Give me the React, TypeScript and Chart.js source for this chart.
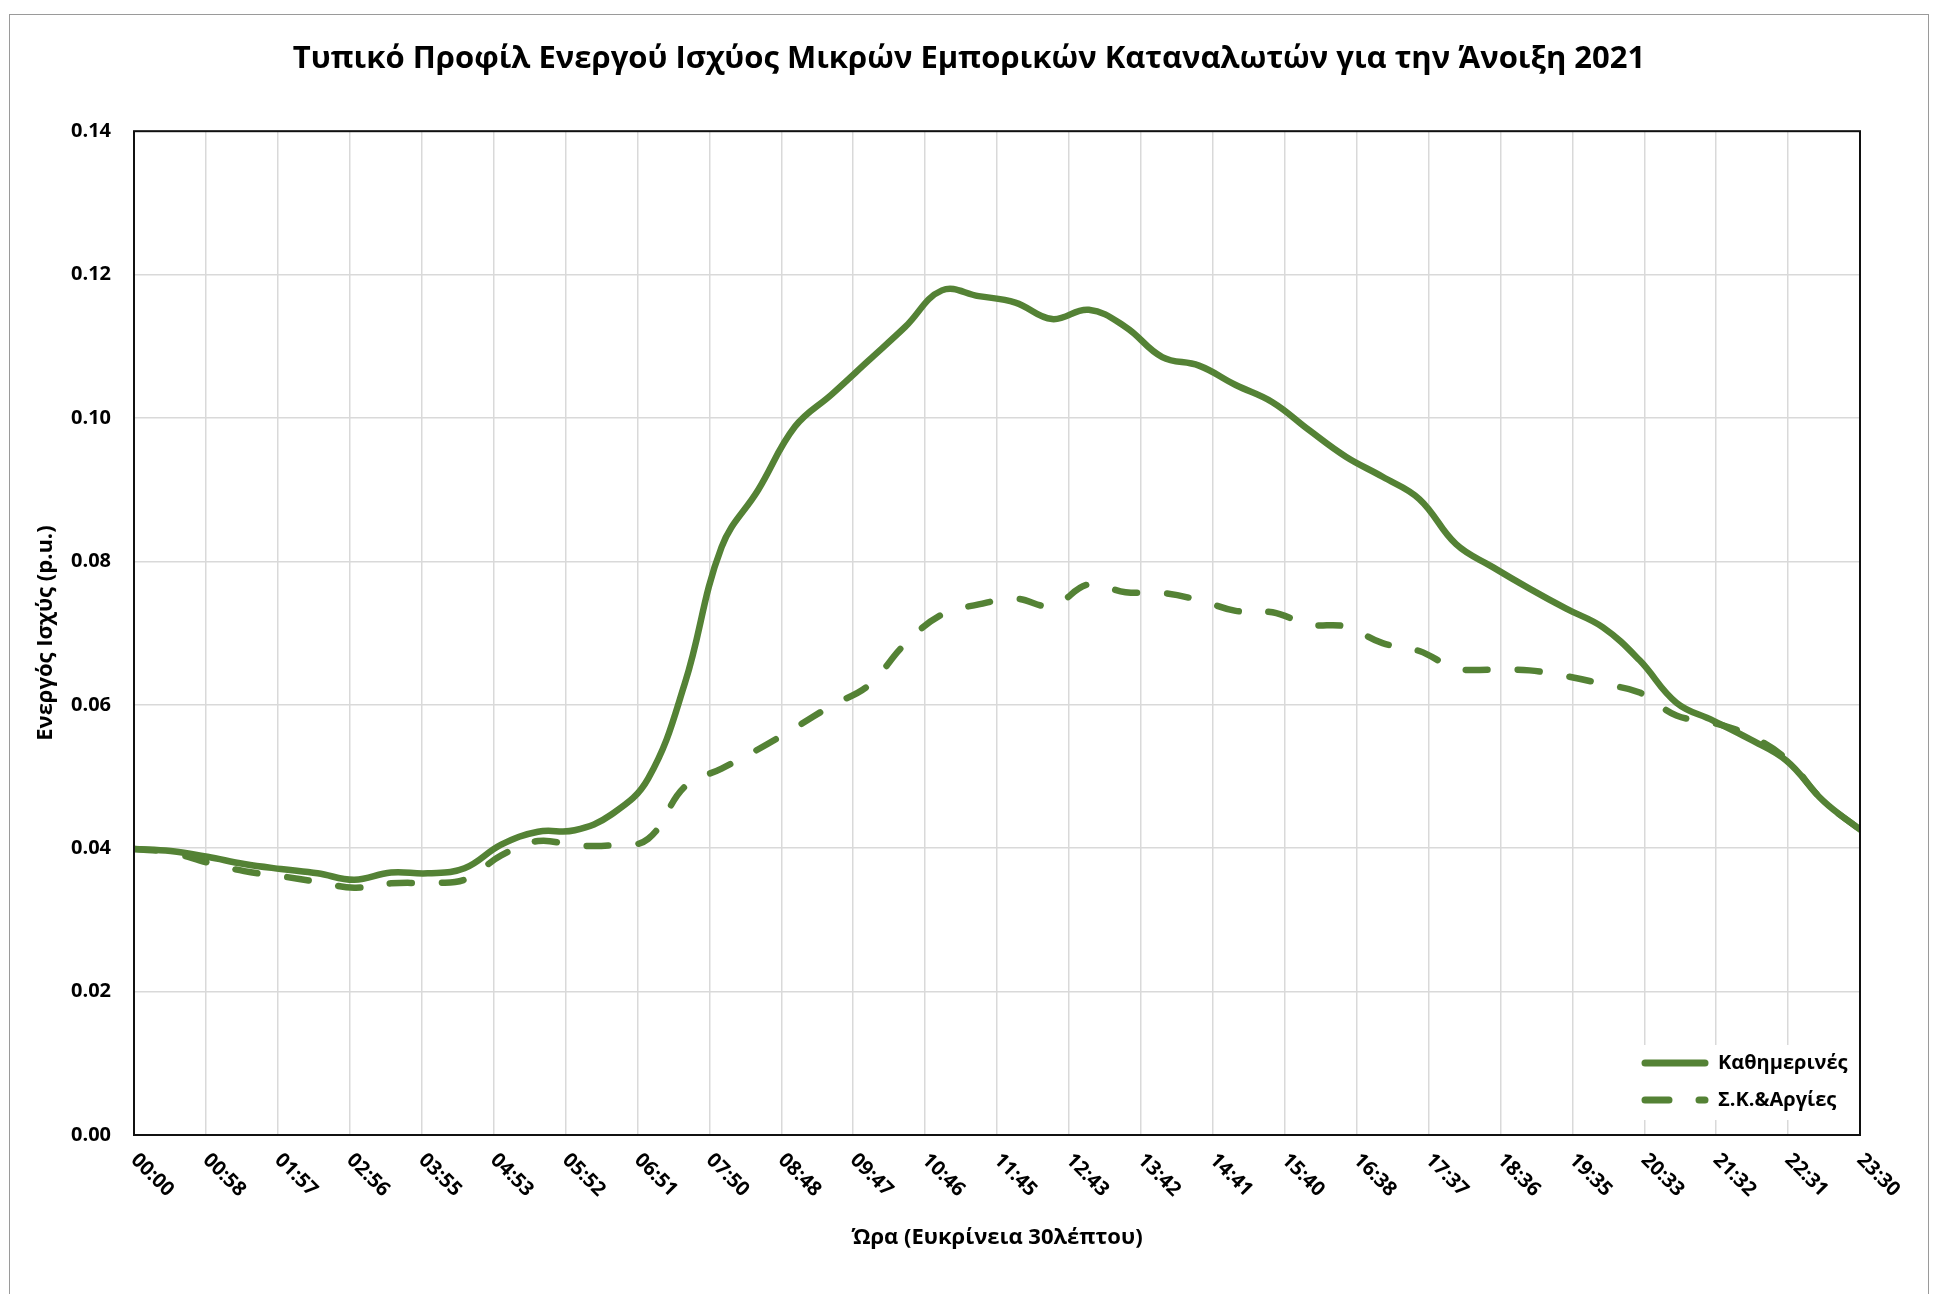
import React, { useEffect, useRef } from "react";
import { Chart, registerables } from "chart.js";

Chart.register(...registerables);

const TITLE =
  "Τυπικό Προφίλ Ενεργού Ισχύος Μικρών Εμπορικών Καταναλωτών για την Άνοιξη 2021";
const X_TITLE = "Ώρα (Ευκρίνεια 30λέπτου)";
const Y_TITLE = "Ενεργός Ισχύς (p.u.)";
const SERIES_NAMES = ["Καθημερινές", "Σ.Κ.&Αργίες"];

const X_TICK_LABELS = [
  "00:00", "00:58", "01:57", "02:56", "03:55", "04:53", "05:52", "06:51",
  "07:50", "08:48", "09:47", "10:46", "11:45", "12:43", "13:42", "14:41",
  "15:40", "16:38", "17:37", "18:36", "19:35", "20:33", "21:32", "22:31",
  "23:30",
];
const Y_TICKS = [0, 0.02, 0.04, 0.06, 0.08, 0.1, 0.12, 0.14];

// Half-hour resolution values, 00:00 ... 23:30
const WEEKDAYS = [
  0.0399, 0.0396, 0.0388, 0.0378, 0.0371, 0.0365, 0.0356, 0.0366,
  0.0365, 0.0372, 0.0405, 0.0423, 0.0425, 0.0447, 0.0497, 0.063,
  0.082, 0.09, 0.0988, 0.1033, 0.108, 0.1127, 0.1178, 0.117,
  0.1161, 0.1138, 0.1151, 0.1127, 0.1085, 0.1073, 0.1046, 0.1022,
  0.0983, 0.0946, 0.0918, 0.0887, 0.0824, 0.0792, 0.0762, 0.0734,
  0.0708, 0.0662, 0.0603, 0.0578, 0.0552, 0.0522, 0.0466, 0.0426,
];
const WEEKENDS = [
  0.0399, 0.0394, 0.038, 0.0368, 0.0361, 0.0353, 0.0345, 0.0351,
  0.0352, 0.0356, 0.039, 0.041, 0.0404, 0.0404, 0.0413, 0.0486,
  0.0511, 0.0538, 0.0568, 0.0599, 0.0627, 0.0685, 0.0726, 0.074,
  0.0748, 0.0738, 0.0768, 0.0757, 0.0756, 0.0746, 0.0731, 0.0729,
  0.0712, 0.0709, 0.0686, 0.0675, 0.0651, 0.0649, 0.0648, 0.064,
  0.0629, 0.0617, 0.0585, 0.0575, 0.0557, 0.0524, 0.0466, 0.0426,
];

const SLOT_MINUTES = 30;
const TIME_SLOTS = WEEKDAYS.map((_, i) => i * SLOT_MINUTES);
const DAY_SPAN = TIME_SLOTS[TIME_SLOTS.length - 1];
const TICK_STEP = DAY_SPAN / (X_TICK_LABELS.length - 1);

const GREEN = "#548235";
const FONT = "'Open Sans', 'Noto Sans', sans-serif";
const DASH = [22, 30];

const CANVAS_W = 1918;
const CANVAS_H = 1279;

const xLabelPlugin = {
  id: "rotatedXLabels",
  afterDraw(chart: any) {
    const { ctx, chartArea, scales } = chart;
    const xs = scales.x;
    ctx.save();
    ctx.font = `bold 20px ${FONT}`;
    ctx.fillStyle = "#000";
    ctx.textAlign = "left";
    ctx.textBaseline = "middle";
    X_TICK_LABELS.forEach((lab, k) => {
      const px = xs.getPixelForValue(k * TICK_STEP);
      ctx.save();
      ctx.translate(px, chartArea.bottom + 22);
      ctx.rotate(Math.PI / 4);
      ctx.fillText(lab, 0, 0);
      ctx.restore();
    });
    ctx.restore();
  },
};

const frameBoxPlugin = {
  id: "plotFrame",
  afterDatasetsDraw(chart: any) {
    const { ctx, chartArea } = chart;
    ctx.save();
    ctx.strokeStyle = "#111";
    ctx.lineWidth = 2;
    ctx.strokeRect(
      chartArea.left,
      chartArea.top,
      chartArea.right - chartArea.left,
      chartArea.bottom - chartArea.top
    );
    ctx.restore();
  },
};

const insideLegendPlugin = {
  id: "insideLegend",
  afterDraw(chart: any) {
    const { ctx, chartArea } = chart;
    const r = chartArea.right;
    const b = chartArea.bottom;
    ctx.save();
    ctx.fillStyle = "#fff";
    ctx.fillRect(r - 228, b - 90, 224, 75);
    const rows = [
      { y: b - 72, dash: [] as number[] },
      { y: b - 35, dash: [24, 30] },
    ];
    rows.forEach((row, idx) => {
      ctx.beginPath();
      ctx.strokeStyle = GREEN;
      ctx.lineWidth = 7;
      ctx.lineCap = "round";
      ctx.setLineDash(row.dash);
      ctx.moveTo(r - 215, row.y);
      ctx.lineTo(r - 155, row.y);
      ctx.stroke();
      ctx.setLineDash([]);
      ctx.fillStyle = "#000";
      ctx.font = `bold 20px ${FONT}`;
      ctx.textAlign = "left";
      ctx.textBaseline = "middle";
      ctx.fillText(SERIES_NAMES[idx], r - 142, row.y);
    });
    ctx.restore();
  },
};

export default function App() {
  const ref = useRef<HTMLCanvasElement | null>(null);

  useEffect(() => {
    if (!ref.current) return;
    const chart = new Chart(ref.current, {
      type: "line",
      data: {
        datasets: [
          {
            label: SERIES_NAMES[0],
            data: TIME_SLOTS.map((x, i) => ({ x, y: WEEKDAYS[i] })),
            borderColor: GREEN,
            backgroundColor: GREEN,
            borderWidth: 6.5,
            pointRadius: 0,
            tension: 0.4,
            borderCapStyle: "round",
            borderJoinStyle: "round",
            fill: false,
          },
          {
            label: SERIES_NAMES[1],
            data: TIME_SLOTS.map((x, i) => ({ x, y: WEEKENDS[i] })),
            borderColor: GREEN,
            backgroundColor: GREEN,
            borderWidth: 6.5,
            borderDash: DASH,
            pointRadius: 0,
            tension: 0.4,
            borderCapStyle: "round",
            borderJoinStyle: "round",
            fill: false,
          },
        ],
      },
      options: {
        responsive: false,
        animation: false,
        devicePixelRatio: 1,
        layout: { padding: 0 },
        plugins: {
          legend: { display: false },
          tooltip: { enabled: false },
          title: {
            display: true,
            text: TITLE,
            color: "#000",
            font: { family: FONT, size: 31, weight: "bold" },
            padding: { top: 26, bottom: 53 },
          },
        },
        scales: {
          x: {
            type: "linear",
            min: 0,
            max: DAY_SPAN,
            afterBuildTicks: (s: any) => {
              s.ticks = X_TICK_LABELS.map((_, k) => ({ value: k * TICK_STEP }));
            },
            afterFit: (s: any) => {
              s.height = 159;
            },
            ticks: { display: false },
            grid: { color: "#d9d9d9", lineWidth: 1.5, drawTicks: false },
            border: { display: false },
            title: {
              display: true,
              text: X_TITLE,
              color: "#000",
              font: { family: FONT, size: 22, weight: "bold" },
              padding: { top: 0, bottom: 43 },
            },
          },
          y: {
            type: "linear",
            min: 0,
            max: 0.14,
            afterBuildTicks: (s: any) => {
              s.ticks = Y_TICKS.map((v) => ({ value: v }));
            },
            afterFit: (s: any) => {
              s.width = 124;
            },
            ticks: {
              color: "#000",
              padding: 23,
              font: { family: FONT, size: 20, weight: "bold" },
              callback: (v: any) => Number(v).toFixed(2),
            },
            grid: { color: "#d9d9d9", lineWidth: 1.5, drawTicks: false },
            border: { display: false },
            title: {
              display: true,
              text: Y_TITLE,
              color: "#000",
              font: { family: FONT, size: 22, weight: "bold" },
              padding: { top: 23, bottom: 0 },
            },
          },
          yRightSpace: {
            type: "linear",
            position: "right",
            display: true,
            afterFit: (s: any) => {
              s.width = 68;
            },
            ticks: { display: false },
            grid: { display: false, drawTicks: false },
            border: { display: false },
          },
        },
      },
      plugins: [frameBoxPlugin, insideLegendPlugin, xLabelPlugin],
    } as any);
    return () => chart.destroy();
  }, []);

  return (
    <div
      style={{
        position: "absolute",
        left: 9,
        top: 14,
        width: CANVAS_W,
        height: CANVAS_H,
        borderTop: "1px solid #9a9a9a",
        borderLeft: "1px solid #9a9a9a",
        borderRight: "1px solid #9a9a9a",
        background: "#fff",
      }}
    >
      <canvas
        ref={ref}
        width={CANVAS_W}
        height={CANVAS_H}
        style={{ display: "block", width: CANVAS_W, height: CANVAS_H }}
      />
    </div>
  );
}
